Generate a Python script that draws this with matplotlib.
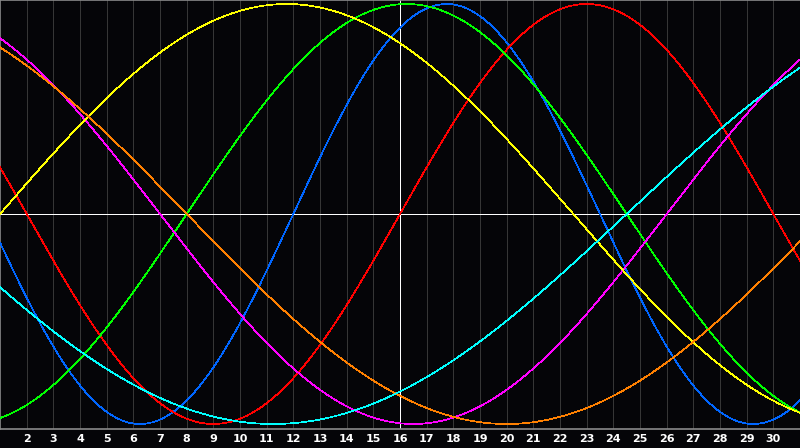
import matplotlib
matplotlib.use('Agg')
import matplotlib.pyplot as plt
import numpy as np

# biorhythm style cycles: colour, period in days, day of the rising zero crossing
cycle_colors = ['#0066ff', '#ff0000', '#00ff00', '#ff00ff', '#ffff00', '#ff8000', '#00ffff']
cycle_periods = [23, 28, 33, 38, 43, 48, 53]
rising_day = [12.0, 16.0, 8.0, 26.0, 1.0, 32.0, 24.5]

days = list(range(2, 31))
today = 16

bg = '#050508'
fig = plt.figure(figsize=(8, 4.48), dpi=100, facecolor=bg)
ax = fig.add_axes([0, 19 / 448, 1, 429 / 448], facecolor=bg)

ax.set_xlim(1, 31)
ax.set_ylim(-215 / 210, 214 / 210)

for d in days:
    if d != today:
        ax.axvline(d, color='#363636', lw=0.6, antialiased=False, zorder=1)

t = np.linspace(1, 31, 1600)
for col, p, r in zip(cycle_colors, cycle_periods, rising_day):
    ax.plot(t, np.sin(2 * np.pi * (t - r) / p), color=col, lw=0.5,
            antialiased=False, zorder=3)

ax.axhline(0, color='white', lw=0.7, antialiased=False, zorder=2)
ax.axvline(today, color='white', lw=0.7, antialiased=False, zorder=2)

ax.set_yticks([])
ax.set_xticks(days)
ax.set_xticklabels([str(d) for d in days], color='white', fontsize=8,
                   fontweight='bold', family='DejaVu Sans')
ax.tick_params(axis='x', length=0, pad=3.5)

for s in ['left', 'top', 'bottom']:
    ax.spines[s].set_color('#8a8a8a')
    ax.spines[s].set_linewidth(1.2)
ax.spines['right'].set_visible(False)

fig.savefig('out.png', dpi=100, facecolor=bg)
